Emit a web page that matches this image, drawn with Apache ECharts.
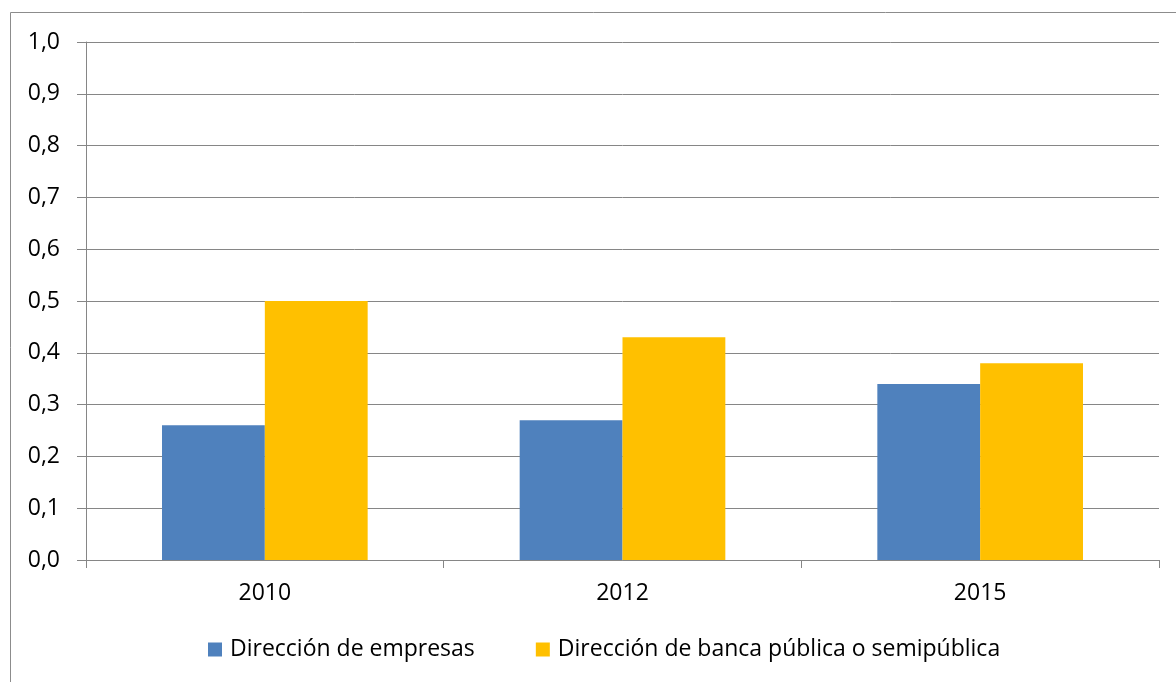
<!DOCTYPE html>
<html><head><meta charset="utf-8">
<script src="https://cdn.jsdelivr.net/npm/echarts@6/dist/echarts.min.js"></script>
<style>html,body{margin:0;padding:0;background:#fff}#c{width:1176px;height:682px}</style>
</head><body><div id="c"></div>
<script>
const categories = ['2010', '2012', '2015'];
const empresas = [0.26, 0.27, 0.34];
const banca = [0.50, 0.43, 0.38];
const seriesNames = ['Dirección de empresas', 'Dirección de banca pública o semipública'];

const chart = echarts.init(document.getElementById('c'));
const font = '"Open Sans", "Noto Sans", sans-serif';
chart.setOption({
  animation: false,
  textStyle: { fontFamily: font },
  graphic: [{
    type: 'rect', shape: { x: 10.5, y: 12.5, width: 1300, height: 800 },
    style: { fill: 'none', stroke: '#8c8c8c', lineWidth: 1 }, silent: true, z: -1
  }],
  grid: { left: 86, right: 17, top: 42, bottom: 122, containLabel: false },
  legend: {
    top: 638, left: 208, padding: 0, itemWidth: 14, itemHeight: 14, itemGap: 61,
    icon: 'rect',
    textStyle: { fontSize: 23, color: '#000', fontFamily: font, padding: [0, 0, 0, 3] },
    data: seriesNames
  },
  xAxis: {
    type: 'category', data: categories,
    axisLine: { lineStyle: { color: '#868686', width: 1 } },
    axisTick: { show: true, length: 8, lineStyle: { color: '#868686' }, alignWithLabel: false },
    axisLabel: { fontSize: 23, color: '#000', margin: 22, fontFamily: font }
  },
  yAxis: {
    type: 'value', min: 0, max: 1, interval: 0.1,
    axisLine: { show: true, lineStyle: { color: '#868686', width: 1 } },
    axisTick: { show: true, length: 9, lineStyle: { color: '#868686' } },
    splitLine: { lineStyle: { color: '#868686', width: 1 } },
    axisLabel: { fontSize: 23, color: '#000', margin: 26, fontFamily: font,
      formatter: v => v.toFixed(1).replace('.', ',') }
  },
  series: [
    { name: seriesNames[0], type: 'bar', data: empresas, itemStyle: { color: '#4f81bd' },
      barGap: '0%', barCategoryGap: '42.5%' },
    { name: seriesNames[1], type: 'bar', data: banca, itemStyle: { color: '#ffc000' },
      barGap: '0%', barCategoryGap: '42.5%' }
  ]
});
</script></body></html>
